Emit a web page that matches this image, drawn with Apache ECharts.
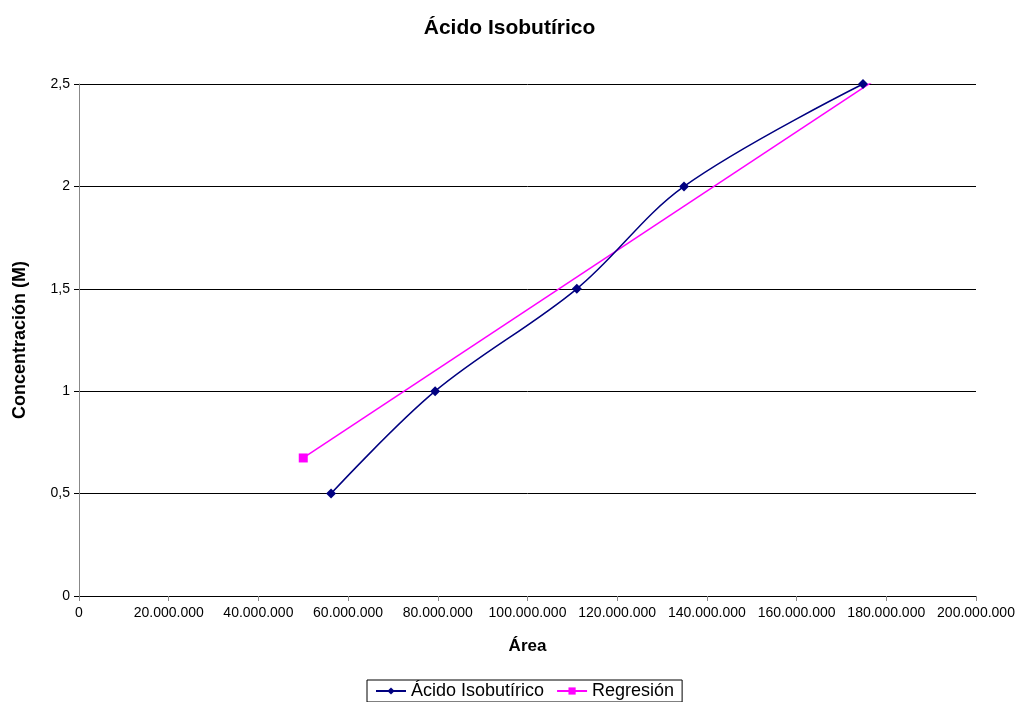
<!DOCTYPE html>
<html><head><meta charset="utf-8">
<script src="https://cdn.jsdelivr.net/npm/echarts@6/dist/echarts.min.js"></script>
<style>html,body{margin:0;padding:0;background:#fff}#c{width:1019px;height:702px}</style>
</head><body><div id="c"></div>
<script>
const areaValues = [56200000, 79400000, 111000000, 134900000, 174800000];
const concValues = [0.5, 1, 1.5, 2, 2.5];
const regX = [50000000, 177500000];
const regY = [0.674, 2.52];
const seriesNames = ['Ácido Isobutírico', 'Regresión'];

const fnt = 'Liberation Sans, Arial, sans-serif';
function fmtX(v){ return v.toString().replace(/\B(?=(\d{3})+(?!\d))/g, '.'); }
function fmtY(v){ return v.toString().replace('.', ','); }

const chart = echarts.init(document.getElementById('c'));
chart.setOption({
  animation:false,
  title:{text:'Ácido Isobutírico', left:'center', top:13,
    textStyle:{fontFamily:fnt, fontSize:21, fontWeight:'bold', color:'#000'}},
  grid:{left:79, right:43, top:84, bottom:106, outerBoundsMode:'none', containLabel:false},
  legend:{bottom:0, left:367, itemGap:12, padding:[2,8,2,8], borderColor:'#000', borderWidth:1,
    itemWidth:30, itemHeight:9,
    textStyle:{fontFamily:fnt, fontSize:18, color:'#000'},
    data:[seriesNames[0], seriesNames[1]]},
  xAxis:{type:'value', min:0, max:200000000, interval:20000000,
    name:'Área', nameLocation:'middle', nameGap:42,
    nameTextStyle:{fontFamily:fnt, fontSize:17, fontWeight:'bold', color:'#000'},
    axisLine:{lineStyle:{color:'#000'}},
    axisTick:{show:true, lineStyle:{color:'#888'}, length:5},
    splitLine:{show:false},
    axisLabel:{formatter:fmtX, fontFamily:fnt, fontSize:14, color:'#000', margin:10}},
  yAxis:{type:'value', min:0, max:2.5, interval:0.5,
    name:'Concentración (M)', nameLocation:'middle', nameGap:50,
    nameTextStyle:{fontFamily:fnt, fontSize:18, fontWeight:'bold', color:'#000'},
    axisLine:{show:true, lineStyle:{color:'#888'}},
    axisTick:{show:true, lineStyle:{color:'#000'}, length:5},
    splitLine:{show:true, lineStyle:{color:'#000', width:1}},
    axisLabel:{formatter:fmtY, fontFamily:fnt, fontSize:14, color:'#000', margin:9}},
  series:[
    {name:seriesNames[0], type:'line', smooth:0.35, symbol:'diamond', symbolSize:10,
     lineStyle:{color:'#000080', width:1.5}, itemStyle:{color:'#000080'},
     data: areaValues.map((x,i)=>[x, concValues[i]]), z:3},
    {name:seriesNames[1], type:'line', symbol:'rect', symbolSize:9,
     lineStyle:{color:'#ff00ff', width:1.5}, itemStyle:{color:'#ff00ff'},
     data: regX.map((x,i)=> i===0 ? [x, regY[i]] : {value:[x, regY[i]], symbol:'none'}), z:2}
  ]
});
</script></body></html>
